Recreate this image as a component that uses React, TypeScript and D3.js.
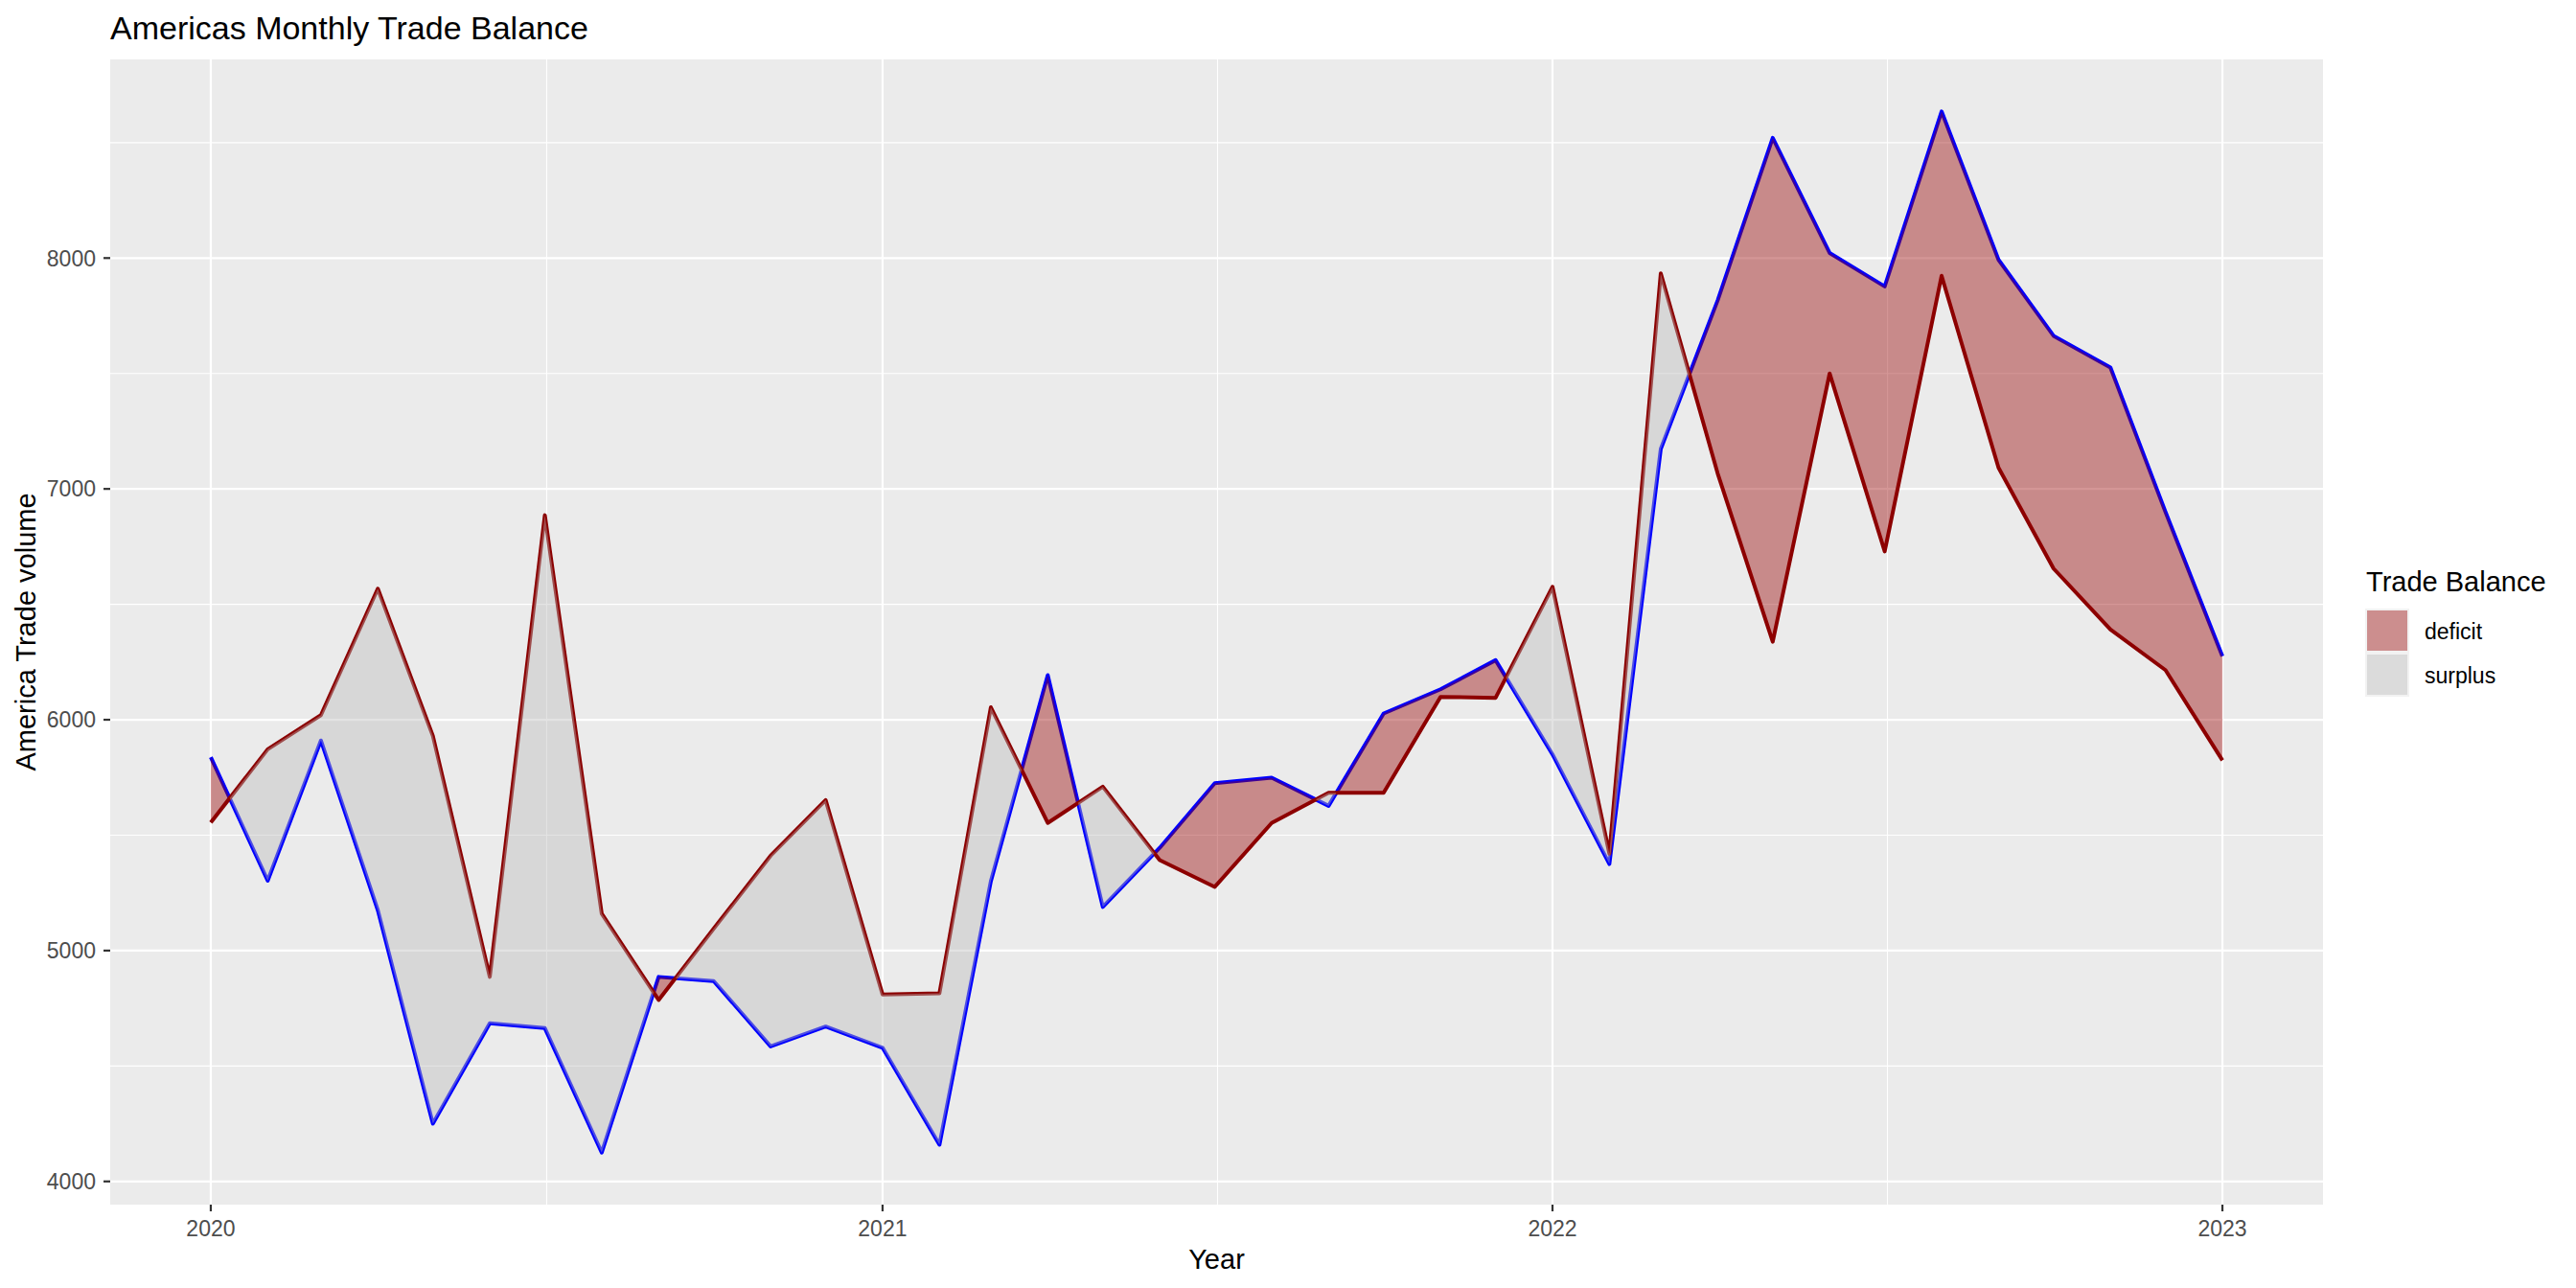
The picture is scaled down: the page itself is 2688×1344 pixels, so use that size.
import React from "react";
import * as d3 from "d3";

const MONTHS = [
  "2020-01-01", "2020-02-01", "2020-03-01", "2020-04-01", "2020-05-01", "2020-06-01",
  "2020-07-01", "2020-08-01", "2020-09-01", "2020-10-01", "2020-11-01", "2020-12-01",
  "2021-01-01", "2021-02-01", "2021-03-01", "2021-04-01", "2021-05-01", "2021-06-01",
  "2021-07-01", "2021-08-01", "2021-09-01", "2021-10-01", "2021-11-01", "2021-12-01",
  "2022-01-01", "2022-02-01", "2022-03-01", "2022-04-01", "2022-05-01", "2022-06-01",
  "2022-07-01", "2022-08-01", "2022-09-01", "2022-10-01", "2022-11-01", "2022-12-01",
  "2023-01-01",
];

// blue line
const IMPORTS = [
  5838, 5303, 5910, 5175, 4250, 4685, 4664, 4125, 4886, 4868, 4585, 4671,
  4579, 4159, 5300, 6193, 5189, 5445, 5725, 5749, 5627, 6027, 6132, 6258,
  5850, 5375, 7173, 7817, 8521, 8022, 7877, 8635, 7993, 7663, 7526, 6900,
  6275,
];

// dark red line
const EXPORTS = [
  5555, 5872, 6020, 6568, 5930, 4886, 6886, 5160, 4786, 5095, 5411, 5652,
  4810, 4815, 6054, 5553, 5710, 5392, 5276, 5553, 5684, 5684, 6099, 6095,
  6576, 5420, 7934, 7067, 6338, 7500, 6729, 7923, 7092, 6655, 6391, 6215,
  5824,
];

const Y_TICKS = [4000, 5000, 6000, 7000, 8000];
const Y_MINOR = [4500, 5500, 6500, 7500, 8500];
const X_TICKS = ["2020-01-01", "2021-01-01", "2022-01-01", "2023-01-01"];
const X_TICK_LABELS = ["2020", "2021", "2022", "2023"];
const LEGEND_KEYS = ["deficit", "surplus"];

const W = 2688;
const H = 1344;
const PL = 115, PR = 2424, PT = 62, PB = 1257;
const FONT = "'Liberation Sans', Arial, sans-serif";
const DEFICIT_FILL = "#960000";
const SURPLUS_FILL = "#bbbbbb";
const FILL_OPACITY = 0.413;

export default function App() {
  const dates = MONTHS.map((d) => new Date(d + "T00:00:00Z"));
  const t0 = dates[0].getTime();
  const t1 = dates[dates.length - 1].getTime();
  const xPad = (t1 - t0) * 0.05;
  const x = d3.scaleUtc().domain([new Date(t0 - xPad), new Date(t1 + xPad)]).range([PL, PR]);

  const all = IMPORTS.concat(EXPORTS);
  const [lo, hi] = d3.extent(all) as [number, number];
  const yPad = (hi - lo) * 0.05;
  const y = d3.scaleLinear().domain([lo - yPad, hi + yPad]).range([PB, PT]);

  type P = { t: number; imp: number; exp: number };
  const pts: P[] = [];
  for (let i = 0; i < dates.length; i++) {
    pts.push({ t: dates[i].getTime(), imp: IMPORTS[i], exp: EXPORTS[i] });
    if (i < dates.length - 1) {
      const d0 = IMPORTS[i] - EXPORTS[i];
      const d1 = IMPORTS[i + 1] - EXPORTS[i + 1];
      if (d0 * d1 < 0) {
        const f = d0 / (d0 - d1);
        const tt = dates[i].getTime() + f * (dates[i + 1].getTime() - dates[i].getTime());
        const v = IMPORTS[i] + f * (IMPORTS[i + 1] - IMPORTS[i]);
        pts.push({ t: tt, imp: v, exp: v });
      }
    }
  }

  const deficitArea = d3.area<P>()
    .x((p) => x(new Date(p.t)))
    .y0((p) => y(p.exp))
    .y1((p) => y(Math.max(p.imp, p.exp)));
  const surplusArea = d3.area<P>()
    .x((p) => x(new Date(p.t)))
    .y0((p) => y(p.imp))
    .y1((p) => y(Math.max(p.imp, p.exp)));

  const lineGen = (vals: number[]) =>
    d3.line<number>().x((_, i) => x(dates[i])).y((v) => y(v))(vals) || "";

  const xTickDates = X_TICKS.map((d) => new Date(d + "T00:00:00Z"));
  const xMinor: number[] = [];
  for (let i = 0; i < xTickDates.length - 1; i++) {
    xMinor.push((x(xTickDates[i]) + x(xTickDates[i + 1])) / 2);
  }

  return (
    <svg width={W} height={H} style={{ position: "absolute", left: 0, top: 0, background: "#fff" }} fontFamily={FONT}>
      <rect x={0} y={0} width={W} height={H} fill="#fff" />
      <text x={PL} y={41} fontSize={34} fill="#000">Americas Monthly Trade Balance</text>

      <rect x={PL} y={PT} width={PR - PL} height={PB - PT} fill="#ebebeb" />
      {Y_MINOR.map((v) => (
        <line key={"ym" + v} x1={PL} x2={PR} y1={y(v)} y2={y(v)} stroke="#fff" strokeWidth={1.1} />
      ))}
      {xMinor.map((px, i) => (
        <line key={"xm" + i} x1={px} x2={px} y1={PT} y2={PB} stroke="#fff" strokeWidth={1.1} />
      ))}
      {Y_TICKS.map((v) => (
        <line key={"yg" + v} x1={PL} x2={PR} y1={y(v)} y2={y(v)} stroke="#fff" strokeWidth={2.2} />
      ))}
      {xTickDates.map((d, i) => (
        <line key={"xg" + i} x1={x(d)} x2={x(d)} y1={PT} y2={PB} stroke="#fff" strokeWidth={2.2} />
      ))}

      <path d={lineGen(IMPORTS)} fill="none" stroke="#0000ff" strokeWidth={4} strokeLinejoin="round" />
      <path d={lineGen(EXPORTS)} fill="none" stroke="#8b0000" strokeWidth={4} strokeLinejoin="round" />
      <path d={surplusArea(pts) || ""} fill={SURPLUS_FILL} fillOpacity={FILL_OPACITY} />
      <path d={deficitArea(pts) || ""} fill={DEFICIT_FILL} fillOpacity={FILL_OPACITY} />

      {Y_TICKS.map((v) => (
        <g key={"yt" + v}>
          <line x1={PL - 7} x2={PL} y1={y(v)} y2={y(v)} stroke="#333" strokeWidth={2.2} />
          <text x={100} y={y(v)} dy="0.36em" textAnchor="end" fontSize={23} fill="#4d4d4d">{v}</text>
        </g>
      ))}
      {xTickDates.map((d, i) => (
        <g key={"xt" + i}>
          <line x1={x(d)} x2={x(d)} y1={PB} y2={PB + 7} stroke="#333" strokeWidth={2.2} />
          <text x={x(d)} y={1290} textAnchor="middle" fontSize={23} fill="#4d4d4d">{X_TICK_LABELS[i]}</text>
        </g>
      ))}

      <text x={(PL + PR) / 2} y={1324} textAnchor="middle" fontSize={29} fill="#000">Year</text>
      <text transform={`translate(37, ${(PT + PB) / 2}) rotate(-90)`} textAnchor="middle" fontSize={29} fill="#000">America Trade volume</text>

      <text x={2469} y={617} fontSize={29} fill="#000">Trade Balance</text>
      <rect x={2468} y={635} width={46} height={92} fill="#f2f2f2" />
      {LEGEND_KEYS.map((k, i) => (
        <g key={k}>
          <rect x={2470} y={637 + i * 46} width={42} height={42}
            fill={i === 0 ? DEFICIT_FILL : SURPLUS_FILL} fillOpacity={FILL_OPACITY} />
          <text x={2530} y={667 + i * 46} fontSize={23} fill="#000">{k}</text>
        </g>
      ))}
    </svg>
  );
}
